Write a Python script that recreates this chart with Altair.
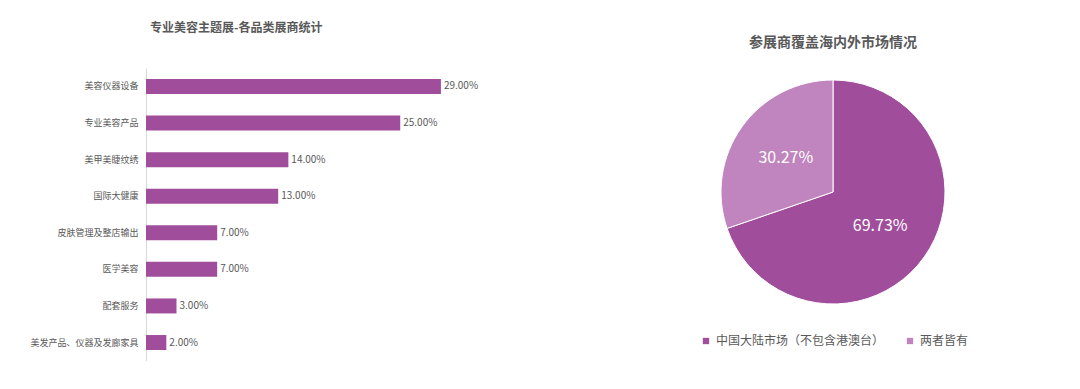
import altair as alt
import pandas as pd

# ---- data ----
categories = ["美容仪器设备", "专业美容产品", "美甲美睫纹绣", "国际大健康",
              "皮肤管理及整店输出", "医学美容", "配套服务", "美发产品、仪器及发廊家具"]
shares = [29.0, 25.0, 14.0, 13.0, 7.0, 7.0, 3.0, 2.0]

markets = ["中国大陆市场（不包含港澳台）", "两者皆有"]
market_shares = [69.73, 30.27]

FONT = "Noto Sans CJK SC"
GREY = "#595959"
DARK = "#A04D9C"
LIGHT = "#C084BE"

bar_df = pd.DataFrame({
    "category": categories,
    "share": shares,
    "label": [f"{v:.2f}%" for v in shares],
})
pie_df = pd.DataFrame({
    "market": markets,
    "share": market_shares,
    "idx": list(range(len(markets))),
    "label": [f"{v:.2f}%" for v in market_shares],
})

# ---- bar chart ----
y = alt.Y("category:N", sort=categories,
          scale=alt.Scale(paddingInner=0.59, paddingOuter=0.3),
          axis=alt.Axis(title=None, domainColor="#D9D9D9", ticks=False, grid=False,
                        labelFont=FONT, labelFontSize=9, labelColor=GREY, labelPadding=8))
x = alt.X("share:Q", scale=alt.Scale(domain=[0, 44.25], nice=False), axis=None)

bars = alt.Chart(bar_df).mark_bar(color=DARK).encode(x=x, y=y)
bar_text = alt.Chart(bar_df).mark_text(align="left", baseline="middle", dx=3,
                                        font=FONT, fontSize=10, color=GREY).encode(
    x=x, y=y, text="label:N")

left = (bars + bar_text).properties(
    width=450, height=293,
    title=alt.TitleParams("专业美容主题展-各品类展商统计", anchor="start", frame="group",
                          dx=4, offset=33, font=FONT, fontSize=12, fontWeight="bold",
                          color=GREY),
)

# ---- pie chart ----
base = alt.Chart(pie_df).encode(
    theta=alt.Theta("share:Q", stack=True),
    order=alt.Order("idx:Q"),
)
arc = base.mark_arc(outerRadius=112, stroke="white", strokeWidth=1).encode(
    color=alt.Color("market:N", sort=markets,
                    scale=alt.Scale(domain=markets, range=[DARK, LIGHT]),
                    legend=alt.Legend(title=None, orient="none", legendX=554, legendY=267,
                                      direction="horizontal", symbolType="square",
                                      symbolSize=40, symbolStrokeWidth=0,
                                      labelFont=FONT, labelFontSize=12, labelColor=GREY,
                                      labelLimit=300, columnPadding=19)),
)
pie_text = base.mark_text(radius=58, font=FONT, fontSize=16, color="white").encode(
    text="label:N")

pie = (arc + pie_text).properties(
    width=260, height=248,
    title=alt.TitleParams("参展商覆盖海内外市场情况", anchor="middle", offset=18,
                          font=FONT, fontSize=14, fontWeight="bold", color=GREY),
)

chart = alt.hconcat(left, pie, spacing=107, bounds="flush").properties(
    padding={"left": 29, "top": 22, "right": 0, "bottom": 0},
).configure_view(stroke=None)

chart.save("out.html", embed_options={"renderer": "svg", "actions": False})
